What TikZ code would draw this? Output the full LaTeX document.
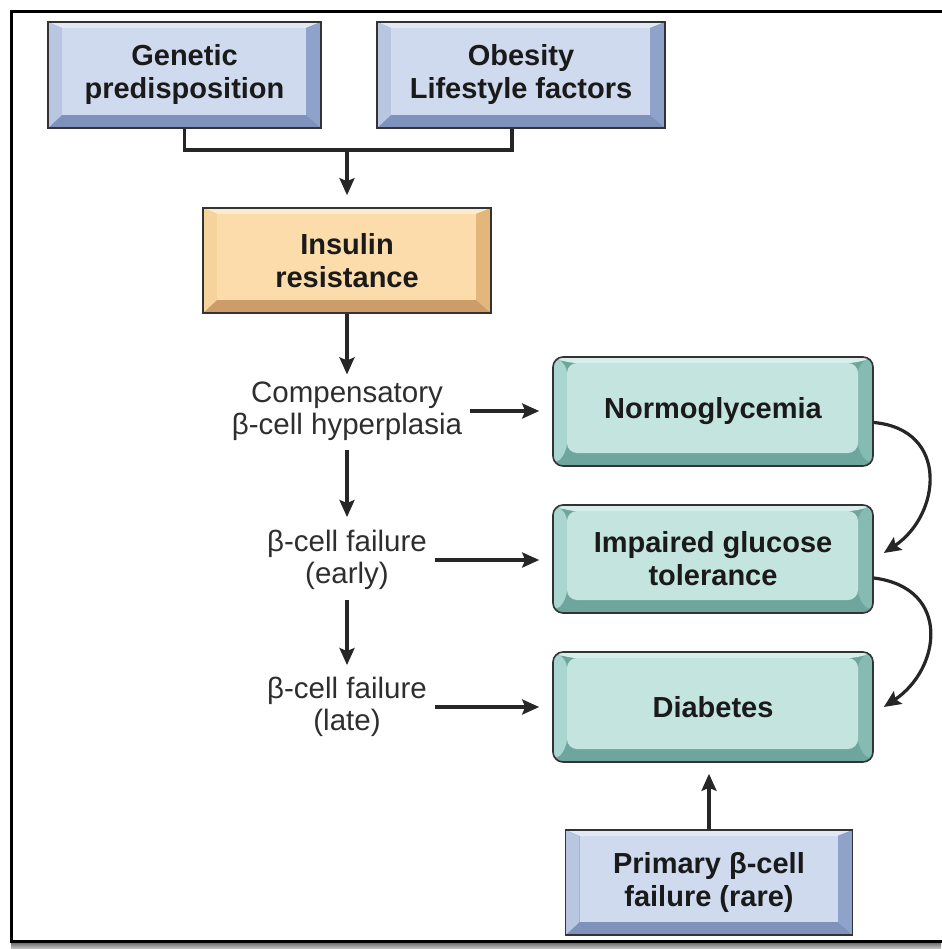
\documentclass[tikz,border=0pt]{standalone}
\usepackage{fontspec}
\setmainfont{Liberation Sans}
\usetikzlibrary{arrows.meta,calc}

\definecolor{bface}{HTML}{CFDAEE}
\definecolor{btop}{HTML}{E2E8F4}
\definecolor{bleft}{HTML}{B8C6E2}
\definecolor{bright}{HTML}{8FA2C9}
\definecolor{bbot}{HTML}{7E92BC}
\definecolor{oface}{HTML}{FBDCAA}
\definecolor{otop}{HTML}{FDEBCD}
\definecolor{oleft}{HTML}{F6D39C}
\definecolor{oright}{HTML}{E3B67C}
\definecolor{obot}{HTML}{CC9C6A}
\definecolor{tface}{HTML}{C4E4E0}
\definecolor{ttop}{HTML}{D8EEEB}
\definecolor{tleft}{HTML}{A9D6CF}
\definecolor{tright}{HTML}{86BBB3}
\definecolor{tbot}{HTML}{6EA69E}
\definecolor{outl}{HTML}{333333}
\definecolor{txt}{HTML}{1A1A1A}
\definecolor{ltxt}{HTML}{2E2E2E}

\tikzset{
  bevel/.style n args={5}{
    path picture={
      \coordinate (bSW) at (path picture bounding box.south west);
      \coordinate (bNE) at (path picture bounding box.north east);
      \coordinate (bNW) at (bSW |- bNE);
      \coordinate (bSE) at (bNE |- bSW);
      \coordinate (iNW) at ([shift={(14pt,-6pt)}]bNW);
      \coordinate (iNE) at ([shift={(-15pt,-6pt)}]bNE);
      \coordinate (iSW) at ([shift={(14pt,13pt)}]bSW);
      \coordinate (iSE) at ([shift={(-15pt,13pt)}]bSE);
      \fill[#5] (bSW) rectangle (bNE);
      \fill[#2] (bNW) -- (bNE) -- (iNE) -- (iNW) -- cycle;
      \fill[#3] (bNW) -- (iNW) -- (iSW) -- (bSW) -- cycle;
      \fill[#4] (bNE) -- (bSE) -- (iSE) -- (iNE) -- cycle;
      \fill[#1] (iNW) rectangle (iSE);
    }
  },
  boxtext/.style={draw=outl, line width=1.6pt, inner sep=0pt, align=center,
    text=txt, font=\fontsize{29}{33}\selectfont\bfseries},
  bluebox/.style={boxtext, bevel={bface}{btop}{bleft}{bright}{bbot}},
  orangebox/.style={boxtext, bevel={oface}{otop}{oleft}{oright}{obot}},
  tealbox/.style={boxtext, rounded corners=10pt, bevel={tface}{ttop}{tleft}{tright}{tbot}},
  lbl/.style={inner sep=0pt, align=center, text=ltxt, font=\fontsize{29.5}{32}\selectfont},
  ln/.style={line width=3.2pt, draw=black!85},
  arr/.style={ln, -{Stealth[length=17pt,width=15pt,inset=3pt]}},
}

\begin{document}
\begin{tikzpicture}[x=1pt,y=-1pt]
\useasboundingbox (0,0) rectangle (941,949);
\fill[white] (0,0) rectangle (941,949);

% frame
\shade[top color=black!55, bottom color=black!20] (11,943) rectangle (941,949);
\draw[line width=3pt, black] (942,11.5) -- (11.5,11.5) -- (11.5,941.5) -- (942,941.5);

% boxes
\node[bluebox, minimum width=273pt, minimum height=106pt] (gen) at (184.5,75) {Genetic\\predisposition};
\node[bluebox, minimum width=288pt, minimum height=106pt] (obe) at (521,75) {Obesity\\Lifestyle factors};
\node[orangebox, minimum width=288pt, minimum height=105pt] (ins) at (347,260.5) {Insulin\\resistance};
\node[tealbox, minimum width=320pt, minimum height=109pt] (nor) at (713,411.5) {Normoglycemia};
\node[tealbox, minimum width=320pt, minimum height=108pt] (imp) at (713,559) {Impaired glucose\\tolerance};
\node[tealbox, minimum width=320pt, minimum height=110pt] (dia) at (713,707) {Diabetes};
\node[bluebox, minimum width=287pt, minimum height=105pt] (pri) at (709,882.5) {Primary β-cell\\failure (rare)};

% labels
\node[lbl] (comp) at (347,411) {Compensatory\\β-cell hyperplasia};
\node[lbl] (early) at (347,560) {β-cell failure\\(early)};
\node[lbl] (late) at (347,707) {β-cell failure\\(late)};

% connectors
\coordinate (j) at (347,150);
\draw[ln] (gen.south) |- (j) -| ([xshift=-9pt]obe.south);
\draw[arr, shorten >=12pt] (j) -- (ins.north);
\draw[arr, shorten >=7pt] (ins.south) -- (comp.north);
\draw[arr, shorten <=9pt, shorten >=13pt] (comp.south) -- (early.north);
\draw[arr, shorten <=10pt, shorten >=12pt] (early.south) -- (late.north);
\draw[arr, shorten <=8pt, shorten >=13pt] (comp.east) -- (comp.east -| nor.west);
\draw[arr, shorten <=8pt, shorten >=13pt] (early.east) -- (early.east -| imp.west);
\draw[arr, shorten <=8pt, shorten >=13pt] (late.east) -- (late.east -| dia.west);
\draw[arr, shorten >=11pt] (pri.north) -- (pri.north |- dia.south);
\draw[arr] ([yshift=-11pt]nor.east) .. controls +(76,7) and +(57,-38) .. ([xshift=10pt,yshift=6pt]imp.east);
\draw[arr] ([yshift=-19pt]imp.east) .. controls +(78,10) and +(57,-38) .. ([xshift=10pt]dia.east);
\end{tikzpicture}
\end{document}
